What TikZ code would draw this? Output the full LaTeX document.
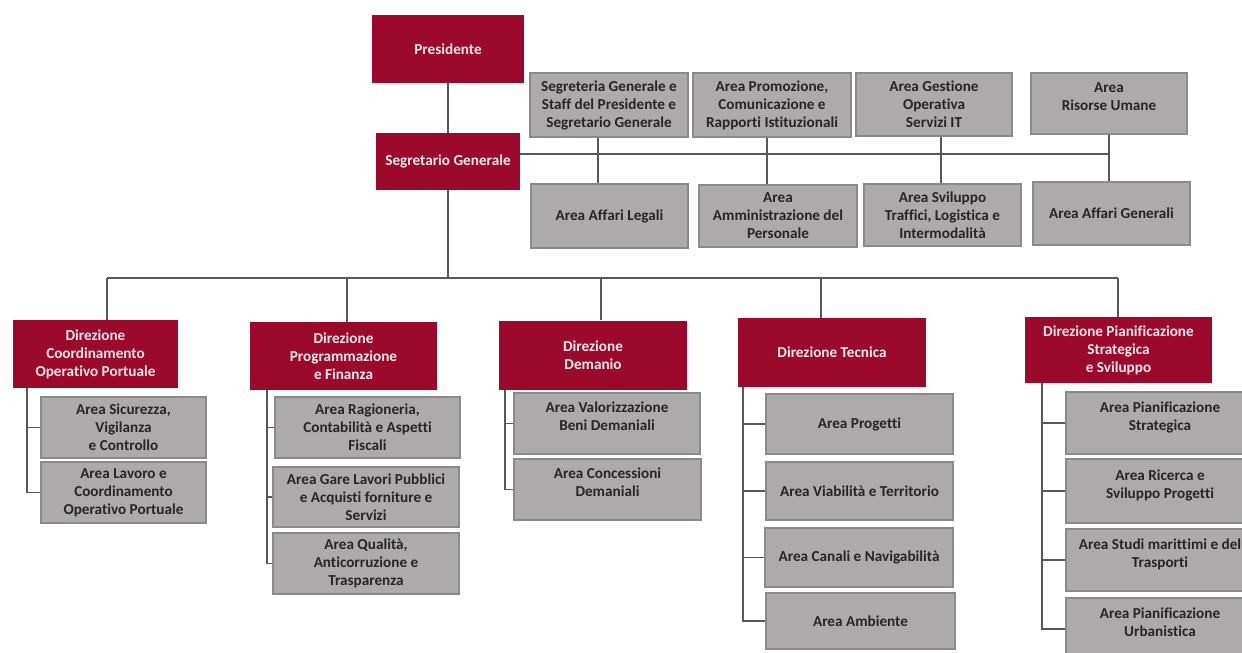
\documentclass[tikz,border=0pt]{standalone}
\usepackage{fontspec}
\setmainfont{Carlito}[Ligatures=NoCommon]

\definecolor{dirred}{RGB}{155,10,45}
\definecolor{areagrey}{RGB}{172,170,170}
\definecolor{areaedge}{RGB}{138,138,138}
\definecolor{linegrey}{RGB}{88,88,88}

\begin{document}
\begin{tikzpicture}[x=0.75pt, y=-0.75pt,
  every node/.style={align=center, inner sep=1pt, font=\fontsize{11.4}{13.5}\selectfont\bfseries},
  boxsize/.style 2 args={minimum width=#1*0.75pt, minimum height=#2*0.75pt},
  redbox/.style={fill=dirred, text=white!92!dirred},
  greybox/.style={fill=areagrey, draw=areaedge, line width=0.8pt, text=black!85},
  link/.style={draw=linegrey, line width=1.2pt}]
\useasboundingbox (0,0) rectangle (1242,653);
\clip (0,0) rectangle (1242,653);

% vertice
\node (pres) [redbox, boxsize={152}{68}] at (448,49) {Presidente};
\node (sg) [redbox, boxsize={144}{57}] at (448,161.5) {Segretario Generale};

% staff
\node (segr) [greybox, boxsize={158}{64}] at (609,105) {Segreteria Generale e\\Staff del Presidente e\\Segretario Generale};
\node (promo) [greybox, boxsize={158}{64}] at (772,105) {Area Promozione,\\Comunicazione e\\Rapporti Istituzionali};
\node (gest) [greybox, boxsize={156}{63}] at (934,104.5) {Area Gestione\\Operativa\\Servizi IT};
\node (risorse) [greybox, boxsize={156}{61}] at (1109,103.5) {Area\\Risorse Umane\\[-3pt]};
\node (legali) [greybox, boxsize={157}{64}] at (609.5,216) {Area Affari Legali};
\node (ammin) [greybox, boxsize={158}{62}] at (778,216) {Area\\Amministrazione del\\Personale};
\node (svil) [greybox, boxsize={157}{62}] at (942.5,215) {Area Sviluppo\\Traffici, Logistica e\\Intermodalità};
\node (generali) [greybox, boxsize={157}{63}] at (1111.5,213.5) {Area Affari Generali};

% direzioni
\node (d1) [redbox, boxsize={165}{68}] at (95.5,354) {Direzione\\Coordinamento\\Operativo Portuale};
\node (d2) [redbox, boxsize={187}{68}] at (343.5,356) {Direzione\\Programmazione\\e Finanza};
\node (d3) [redbox, boxsize={188}{69}] at (593,355) {Direzione\\Demanio};
\node (d4) [redbox, boxsize={188}{69}] at (832,352.5) {Direzione Tecnica};
\node (d5) [redbox, boxsize={187}{66}] at (1118.5,350) {Direzione Pianificazione\\Strategica\\e Sviluppo};

% aree delle direzioni
\node (sicur) [greybox, boxsize={165}{61}] at (123.5,427.5) {Area Sicurezza,\\Vigilanza\\e Controllo};
\node (lavoro) [greybox, boxsize={165}{61}] at (123.5,492.5) {Area Lavoro e\\Coordinamento\\Operativo Portuale};
\node (ragion) [greybox, boxsize={185}{61}] at (367.5,427.5) {Area Ragioneria,\\Contabilità e Aspetti\\Fiscali};
\node (gare) [greybox, boxsize={186}{60}] at (366,497) {Area Gare Lavori Pubblici\\e Acquisti forniture e\\Servizi};
\node (qualita) [greybox, boxsize={186}{61}] at (366,563.5) {Area Qualità,\\Anticorruzione e\\Trasparenza};
\node (valor) [greybox, boxsize={186}{61}] at (607,423.5) {Area Valorizzazione\\Beni Demaniali\\[-3pt]};
\node (conc) [greybox, boxsize={187}{61}] at (607.5,489.5) {Area Concessioni\\Demaniali\\[-3pt]};
\node (prog) [greybox, boxsize={187}{60}] at (859.5,424) {Area Progetti};
\node (viab) [greybox, boxsize={187}{58}] at (859.5,491) {Area Viabilità e Territorio};
\node (canali) [greybox, boxsize={188}{59}] at (859,557.5) {Area Canali e Navigabilità};
\node (amb) [greybox, boxsize={189}{56}] at (860.5,621) {Area Ambiente};
\node (pstrat) [greybox, boxsize={188}{62}] at (1160,423) {Area Pianificazione\\Strategica\\[-3pt]};
\node (ricerca) [greybox, boxsize={188}{64}] at (1160,491) {Area Ricerca e\\Sviluppo Progetti\\[-3pt]};
\node (studi) [greybox, boxsize={188}{62}] at (1160,560) {Area Studi marittimi e del\\Trasporti\\[-3pt]};
\node (urban) [greybox, boxsize={188}{62}] at (1160,629) {Area Pianificazione\\Urbanistica\\[-3pt]};

% collegamenti vertice e staff
\draw[link] (pres) -- (sg);
\draw[link] ([yshift=5.6pt]sg.east) -- ([yshift=5.6pt]sg.east -| risorse.south);
\draw[link] ([xshift=-8.25pt]segr.south) -- ([xshift=-8.25pt]segr.south |- legali.north);
\draw[link] ([xshift=-3.75pt]promo.south) -- ([xshift=-3.75pt]promo.south |- ammin.north);
\draw[link] ([xshift=5.25pt]gest.south) -- ([xshift=5.25pt]gest.south |- svil.north);
\draw[link] (risorse.south) -- (risorse.south |- generali.north);

% linea delle direzioni
\coordinate (bus) at (448,278);
\coordinate (t1) at (107,278);
\coordinate (t2) at (347,278);
\coordinate (t3) at (601,278);
\coordinate (t4) at (821,278);
\coordinate (t5) at (1118,278);
\draw[link] (sg.south) -- (bus);
\draw[link] (t1) -- (t5);
\foreach \i in {1,...,5}
  \draw[link] (t\i) -- (t\i |- d\i.north);

% aree per direzione
\coordinate (sp1) at ([xshift=10.5pt]d1.south west);
\coordinate (sp2) at ([xshift=12.75pt]d2.south west);
\coordinate (sp3) at ([xshift=4.5pt]d3.south west);
\coordinate (sp4) at ([xshift=3.75pt]d4.south west);
\coordinate (sp5) at ([xshift=12.75pt]d5.south west);
\foreach \a in {sicur,lavoro} \draw[link] (sp1) |- (\a.west);
\foreach \a in {ragion,gare,qualita} \draw[link] (sp2) |- (\a.west);
\foreach \a in {valor,conc} \draw[link] (sp3) |- (\a.west);
\foreach \a in {prog,viab,canali,amb} \draw[link] (sp4) |- (\a.west);
\foreach \a in {pstrat,ricerca,studi,urban} \draw[link] (sp5) |- (\a.west);
\end{tikzpicture}
\end{document}
